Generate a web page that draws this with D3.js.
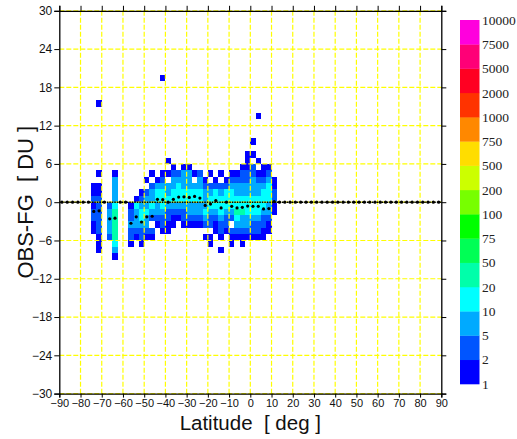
<!DOCTYPE html>
<html>
<head>
<meta charset="utf-8">
<script src="https://cdn.jsdelivr.net/npm/d3@7/dist/d3.min.js"></script>
<style>
  body { margin: 0; background: #fff; }
  svg { display: block; }
</style>
</head>
<body>
<svg id="chart" width="517" height="439"></svg>
<script>
// Latitude bins (lower edge, 2.5 deg wide) that contain observations
const latBins = [-75, -72.5, -70, -67.5, -65, -62.5, -60, -57.5, -55, -52.5, -50, -47.5,
  -45, -42.5, -40, -37.5, -35, -32.5, -30, -27.5, -25, -22.5, -20, -17.5, -15, -12.5,
  -10, -7.5, -5, -2.5, 0, 2.5, 5, 7.5, 10];

// Highest 1-DU OBS-FG bin (lower edge) of the block in each latitude column
const columnTop = [2, 2, null, -1, 4, null, null, -1, 0, 1, 3, 4, 4, 4, 4, 5, 4, 5, 5, 4,
  4, 3, 4, 4, 4, 4, 4, 4, 5, 5, 5, 4, 5, 5, 3];

// Counts per 1-DU bin, listed from columnTop downwards (0 = empty bin)
const columnCounts = [
  [1, 1, 3, 1, 3, 3, 1, 1],
  [1, 1, 3, 3, 3, 3, 3, 3, 1, 1, 1],
  [],
  [3, 7, 7, 7, 7, 3],
  [1, 7, 7, 7, 7, 15, 30, 30, 30, 30, 30, 15, 7, 1],
  [],
  [],
  [1, 3, 3, 7, 3, 3, 1],
  [1, 15, 7, 7, 7, 3, 1],
  [1, 3, 7, 15, 15, 7, 3, 3, 1],
  [1, 0, 3, 7, 7, 15, 7, 7, 3, 1],
  [1, 0, 3, 7, 7, 15, 7, 3, 0, 3, 1],
  [0, 1, 7, 15, 15, 7, 7, 3, 1],
  [1, 3, 7, 15, 15, 15, 7, 3, 3, 1],
  [1, 0, 7, 7, 15, 7, 3, 3, 1, 1],
  [1, 3, 7, 7, 15, 15, 7, 3, 1, 1],
  [3, 7, 15, 15, 15, 7, 3, 1],
  [1, 7, 7, 7, 15, 15, 7, 3, 3, 1],
  [1, 7, 7, 7, 15, 15, 7, 7, 3, 1],
  [1, 0, 7, 15, 15, 7, 7, 3, 1],
  [3, 7, 7, 15, 15, 7, 7, 3, 1],
  [1, 3, 7, 7, 7, 15, 7, 3, 0, 1],
  [1, 0, 3, 7, 15, 15, 7, 3, 3, 0, 1, 1],
  [0, 1, 3, 15, 15, 15, 7, 3, 1, 1],
  [1, 0, 3, 7, 15, 15, 15, 7, 3, 3, 1, 0, 1],
  [0, 1, 3, 15, 15, 15, 7, 3, 3, 1],
  [1, 3, 7, 15, 15, 15, 7, 3, 0, 3, 1, 1],
  [1, 3, 7, 7, 15, 15, 30, 15, 7, 3, 1],
  [1, 3, 3, 7, 7, 15, 15, 30, 7, 7, 3, 1, 1],
  [1, 3, 3, 7, 7, 15, 15, 15, 7, 7, 3, 1],
  [3, 3, 7, 7, 7, 15, 15, 15, 7, 3, 3, 1],
  [1, 3, 7, 7, 15, 15, 15, 7, 3, 3, 1],
  [1, 1, 3, 7, 15, 15, 15, 7, 3, 3, 1, 1],
  [1, 3, 7, 15, 15, 15, 7, 7, 3, 1, 1],
  [1, 1, 3, 3, 1, 1]
];

// Isolated bins away from the main blocks
const isolatedLat = [-72.5, -72.5, -42.5, -40, -2.5, -2.5, 0, 0, 2.5, 2.5];
const isolatedObs = [15, 4, 19, 6, 7, 6, 9, 7, 13, 6];
const isolatedCount = [1, 1, 1, 1, 1, 1, 1, 1, 1, 1];

// Mean OBS-FG per 2.5 deg latitude bin, from -90 to 87.5 (0 where the bin is empty)
const meanObs = [
  0, 0, 0, 0, 0, 0,
  -1.45, -1.35, 0, -2.6, -2.5, 0, 0, -3.3, -2.3, -3.1, -2.3, -2.2,
  0.45, 0.4, 0, 0.45, 0.8, 0.85, 0.75, 0.9, 0.65, -0.5, -0.3, 0.25,
  -0.9, 0, -0.65, -0.9, -0.8, -0.6, -0.65, -0.65, -1.05, -1.0, 0.1,
  0, 0, 0, 0, 0, 0, 0, 0, 0, 0, 0, 0, 0, 0, 0, 0, 0, 0, 0, 0,
  0, 0, 0, 0, 0, 0, 0, 0, 0, 0, 0
];

const xTicks = [-90, -80, -70, -60, -50, -40, -30, -20, -10, 0, 10, 20, 30, 40, 50, 60, 70, 80, 90];
const yTicks = [-30, -24, -18, -12, -6, 0, 6, 12, 18, 24, 30];

// Colour classes of the counts
const colorLevels = [1, 2, 5, 10, 20, 50, 75, 100, 200, 500, 750, 1000, 2000, 5000, 7500, 10000];
const colorFills = ["#0000ff", "#0055ff", "#00aaff", "#00ffff", "#00ffaa", "#00ff55", "#00ff00",
  "#77ff00", "#ccff00", "#ffdd00", "#ff8800", "#ff3300", "#ff0022", "#ff0077", "#ff00dd"];

const binWidth = 2.5, obsStep = 1;
const sans = "'Liberation Sans', Arial, sans-serif";
const serif = "'Liberation Serif', 'Times New Roman', serif";

const svg = d3.select("#chart");
const x = d3.scaleLinear().domain([-90, 90]).range([59.3, 441.3]);
const y = d3.scaleLinear().domain([-30, 30]).range([393.6, 10.8]);
const color = d3.scaleThreshold().domain(colorLevels.slice(1, -1)).range(colorFills);

// Flatten the histogram into non-empty cells
const cells = [];
latBins.forEach((lat, i) => {
  if (columnTop[i] === null) return;
  columnCounts[i].forEach((c, k) => {
    if (c > 0) cells.push({ lat, obs: columnTop[i] - k * obsStep, count: c });
  });
});
isolatedLat.forEach((lat, i) => cells.push({ lat, obs: isolatedObs[i], count: isolatedCount[i] }));

svg.append("g").selectAll("rect").data(cells).join("rect")
  .attr("x", d => x(d.lat))
  .attr("y", d => y(d.obs + obsStep))
  .attr("width", d => x(d.lat + binWidth) - x(d.lat))
  .attr("height", d => y(d.obs) - y(d.obs + obsStep))
  .attr("fill", d => color(d.count))
  .attr("shape-rendering", "crispEdges");

// Dashed yellow grid
const grid = svg.append("g").attr("stroke", "#ffff00").attr("stroke-width", 1.2)
  .attr("stroke-dasharray", "5,2");
grid.selectAll("line.v").data(xTicks.slice(1, -1)).join("line").attr("class", "v")
  .attr("x1", d => x(d)).attr("x2", d => x(d)).attr("y1", y(30)).attr("y2", y(-30));
grid.selectAll("line.h").data(yTicks).join("line").attr("class", "h")
  .attr("x1", x(-90)).attr("x2", x(90)).attr("y1", d => y(d)).attr("y2", d => y(d));

// Zero reference line
svg.append("line")
  .attr("x1", x(-90)).attr("x2", x(90)).attr("y1", y(0)).attr("y2", y(0))
  .attr("stroke", "#000").attr("stroke-width", 1.6).attr("stroke-dasharray", "1.5,1");

// Axes on all four sides
const fmt = d3.format("d");
const styleAxis = g => {
  g.select(".domain").attr("stroke", "#000").attr("stroke-width", 1.3);
  g.selectAll(".tick line").attr("stroke", "#000").attr("stroke-width", 1);
  g.selectAll("text").attr("font-family", sans).attr("font-size", 11).attr("fill", "#111");
};
svg.append("g").attr("transform", `translate(0,${y(-30)})`)
  .call(d3.axisBottom(x).tickValues(xTicks).tickFormat(fmt).tickSizeOuter(0).tickSize(4).tickPadding(2))
  .call(styleAxis);
svg.append("g").attr("transform", `translate(0,${y(30)})`)
  .call(d3.axisTop(x).tickValues(xTicks).tickFormat("").tickSizeOuter(0).tickSize(5))
  .call(styleAxis);
svg.append("g").attr("transform", `translate(${x(-90)},0)`)
  .call(d3.axisLeft(y).tickValues(yTicks).tickFormat(fmt).tickSizeOuter(0).tickSize(5).tickPadding(2))
  .call(styleAxis)
  .call(g => g.selectAll("text").attr("font-size", 12));
svg.append("g").attr("transform", `translate(${x(90)},0)`)
  .call(d3.axisRight(y).tickValues(yTicks).tickFormat("").tickSizeOuter(0).tickSize(5))
  .call(styleAxis);

// Mean OBS-FG per latitude bin
const meanLat = d3.range(-90, 90, binWidth);
svg.append("g").selectAll("circle").data(meanObs).join("circle")
  .attr("cx", (d, i) => x(meanLat[i] + binWidth / 2))
  .attr("cy", d => y(d))
  .attr("r", 1.6)
  .attr("fill", "#000");

// Axis titles
svg.append("text")
  .attr("x", (x(-90) + x(90)) / 2).attr("y", 429.5)
  .attr("text-anchor", "middle")
  .attr("font-family", sans).attr("font-size", 20.5)
  .attr("fill", "#111").attr("xml:space", "preserve")
  .text("Latitude  [ deg ]");
svg.append("text")
  .attr("transform", `translate(33,${(y(-30) + y(30)) / 2}) rotate(-90)`)
  .attr("text-anchor", "middle")
  .attr("font-family", sans).attr("font-size", 22)
  .attr("fill", "#111").attr("xml:space", "preserve")
  .text("OBS-FG  [ DU ]");

// Colour bar
const cb = d3.scaleBand().domain(d3.range(colorFills.length)).range([384, 20]);
const cbLabels = d3.scaleLinear().domain([0, colorFills.length]).range([384, 20]);
const bar = svg.append("g");
bar.selectAll("rect").data(colorFills).join("rect")
  .attr("x", 460).attr("width", 19.5)
  .attr("y", (d, i) => cb(i)).attr("height", cb.bandwidth() + 0.3)
  .attr("fill", d => d);
bar.selectAll("text").data(colorLevels).join("text")
  .attr("x", 482).attr("y", (d, i) => cbLabels(i))
  .attr("dy", "0.35em")
  .attr("font-family", serif).attr("font-size", 13.5)
  .attr("fill", "#222")
  .text(d => d);
</script>
</body>
</html>
